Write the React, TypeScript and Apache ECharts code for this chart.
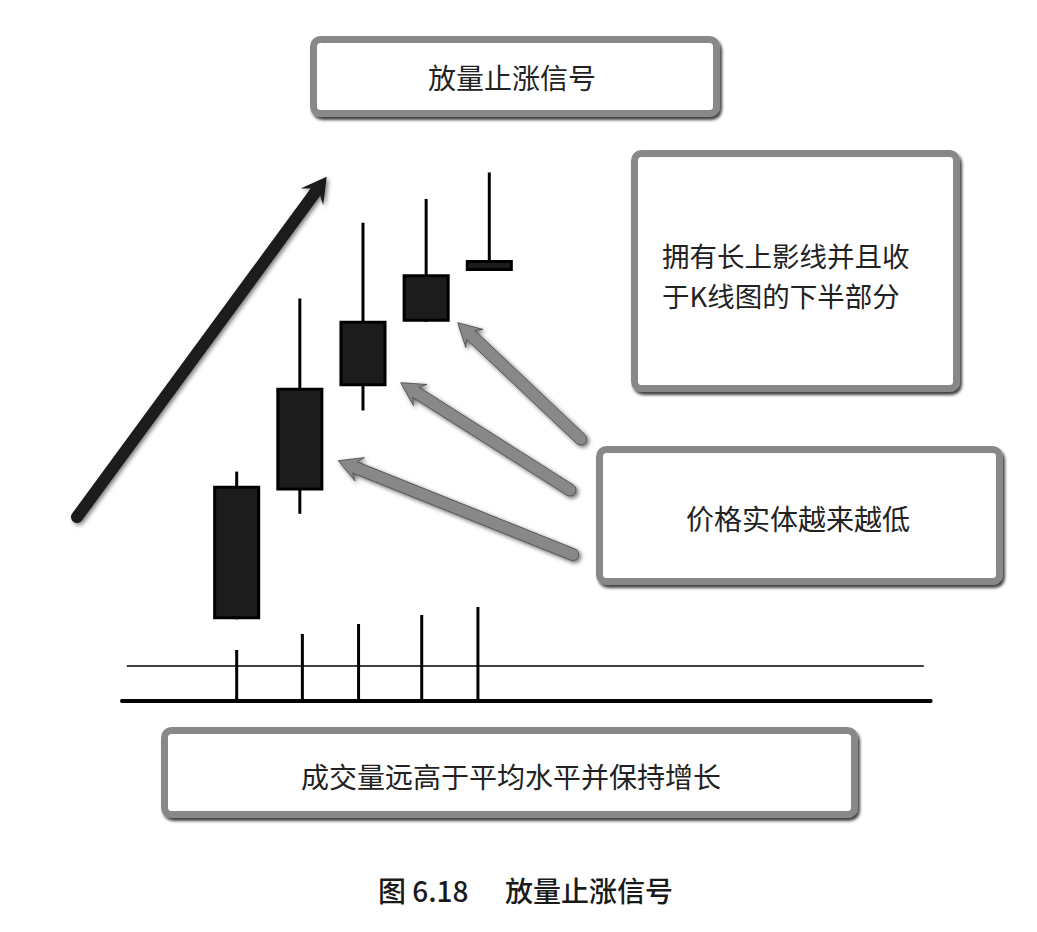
import React, { useEffect, useRef } from 'react';
import * as echarts from 'echarts';

// ---- data ----
const candleX = [0, 1, 2, 3, 4];
const openP = [15.1, 38.9, 58.2, 70.1, 79.5];
const closeP = [39.8, 57.9, 70.3, 78.9, 81.5];
const lowP = [15.1, 34.6, 53.7, 70.1, 79.5];
const highP = [42.4, 74.4, 88.4, 92.8, 97.7];

const volX = [0, 1.04, 1.93, 2.93, 3.82];
const volume = [51, 67, 77, 86, 94];
const avgVolume = 35;
const avgLineRange = [-1.74, 10.88];

const titleText = '放量止涨信号';
const noteUpperLines = ['拥有长上影线并且收', '于K线图的下半部分'];
const noteBody = '价格实体越来越低';
const noteVolume = '成交量远高于平均水平并保持增长';
const captionNo = '图 6.18';
const captionTitle = '放量止涨信号';

const FONT = "'Noto Sans CJK SC', 'Noto Sans', sans-serif";

function arrowPoints(
  tail: number[],
  tip: number[],
  shaftHalf: number,
  headLen: number,
  headHalf: number,
  notch: number
) {
  const dx = tip[0] - tail[0];
  const dy = tip[1] - tail[1];
  const L = Math.hypot(dx, dy);
  const ux = dx / L;
  const uy = dy / L;
  const nx = -uy;
  const ny = ux;
  const P = (along: number, perp: number) => [
    tail[0] + ux * along + nx * perp,
    tail[1] + uy * along + ny * perp,
  ];
  const pts: number[][] = [];
  for (let k = 0; k <= 14; k++) {
    const a = Math.PI / 2 + (Math.PI * k) / 14;
    pts.push(P(Math.cos(a) * shaftHalf, Math.sin(a) * shaftHalf));
  }
  pts.push(P(L - headLen + notch, -shaftHalf));
  pts.push(P(L - headLen, -headHalf));
  pts.push(P(L, 0));
  pts.push(P(L - headLen, headHalf));
  pts.push(P(L - headLen + notch, shaftHalf));
  return pts;
}

function box(x: number, y: number, w: number, h: number) {
  const bw = 7;
  return {
    type: 'rect',
    z: 5,
    shape: { x: x + bw / 2, y: y + bw / 2, width: w - bw, height: h - bw, r: 7 },
    style: {
      fill: '#ffffff',
      stroke: '#888888',
      lineWidth: bw,
      shadowColor: 'rgba(0,0,0,0.75)',
      shadowBlur: 3,
      shadowOffsetX: 2,
      shadowOffsetY: 3,
    },
  };
}

function text(
  x: number,
  y: number,
  t: string,
  size: number,
  align: string,
  weight: any = 'normal',
  color: string = '#222222'
) {
  return {
    type: 'text',
    z: 6,
    x,
    y,
    style: {
      text: t,
      fill: color,
      fontSize: size,
      fontFamily: FONT,
      fontWeight: weight,
      align,
      verticalAlign: 'middle',
      textAlign: align,
      textVerticalAlign: 'middle',
    },
  };
}

const grayArrowStyle = {
  fill: '#888888',
  stroke: '#444444',
  lineWidth: 0.8,
  shadowColor: 'rgba(0,0,0,0.6)',
  shadowBlur: 4,
  shadowOffsetX: 2,
  shadowOffsetY: 2,
};

export default function App() {
  const ref = useRef<HTMLDivElement>(null);

  useEffect(() => {
    if (!ref.current) return;
    const chart = echarts.init(ref.current, null, { renderer: 'svg' });

    const candleData = candleX.map((x, i) => [x, openP[i], closeP[i], lowP[i], highP[i]]);
    const volData = volX.map((x, i) => [x, volume[i]]);

    const xCommon = {
      type: 'value',
      min: -1.816,
      max: 10.988,
      axisLabel: { show: false },
      axisTick: { show: false },
      splitLine: { show: false },
    };

    const option: any = {
      animation: false,
      backgroundColor: '#ffffff',
      grid: [
        { left: 122, right: 106.4, top: 160, bottom: 231 },
        { left: 122, right: 106.4, top: 601, bottom: 231 },
      ],
      xAxis: [
        { ...xCommon, gridIndex: 0, axisLine: { show: false } },
        {
          ...xCommon,
          gridIndex: 1,
          position: 'bottom',
          axisLine: { show: true, onZero: false, lineStyle: { color: '#000', width: 4 } },
        },
      ],
      yAxis: [
        { type: 'value', gridIndex: 0, min: 0, max: 100, show: false, splitLine: { show: false } },
        { type: 'value', gridIndex: 1, min: 0, max: 100, show: false, splitLine: { show: false } },
      ],
      series: [
        {
          type: 'custom',
          name: 'K线',
          xAxisIndex: 0,
          yAxisIndex: 0,
          encode: { x: 0, y: [1, 2, 3, 4] },
          data: candleData,
          renderItem: (params: any, api: any) => {
            const x = api.value(0);
            const o = api.value(1);
            const c = api.value(2);
            const l = api.value(3);
            const h = api.value(4);
            const pTop = api.coord([x, Math.max(o, c)]);
            const pBot = api.coord([x, Math.min(o, c)]);
            const pH = api.coord([x, h]);
            const pL = api.coord([x, l]);
            const outerW = api.size([0.745, 0])[0];
            const bw = 3;
            return {
              type: 'group',
              children: [
                {
                  type: 'line',
                  shape: { x1: pH[0], y1: pH[1], x2: pL[0], y2: pL[1] },
                  style: { stroke: '#000', lineWidth: 3 },
                },
                {
                  type: 'rect',
                  shape: {
                    x: pTop[0] - outerW / 2 + bw / 2,
                    y: pTop[1] + bw / 2,
                    width: outerW - bw,
                    height: Math.max(pBot[1] - pTop[1] - bw, 1),
                  },
                  style: { fill: '#1c1c1c', stroke: '#000', lineWidth: bw },
                },
              ],
            };
          },
        },
        {
          type: 'bar',
          name: '成交量',
          xAxisIndex: 1,
          yAxisIndex: 1,
          barWidth: 3,
          itemStyle: { color: '#000' },
          data: volData,
          markLine: {
            silent: true,
            symbol: ['none', 'none'],
            label: { show: false },
            lineStyle: { color: '#000', width: 1.6, type: 'solid' },
            data: [
              [
                { coord: [avgLineRange[0], avgVolume] },
                { coord: [avgLineRange[1], avgVolume] },
              ],
            ],
          },
        },
      ],
      graphic: [
        // big black trend arrow
        {
          type: 'polygon',
          z: 4,
          shape: { points: arrowPoints([77, 517], [326.7, 176.7], 6, 25, 14, 6) },
          style: {
            fill: '#1a1a1a',
            shadowColor: 'rgba(0,0,0,0.5)',
            shadowBlur: 4,
            shadowOffsetX: 2,
            shadowOffsetY: 2,
          },
        },
        // gray arrows
        {
          type: 'polygon',
          z: 4,
          shape: { points: arrowPoints([580.7, 439], [457.7, 322.7], 6, 23, 12.5, 5) },
          style: grayArrowStyle,
        },
        {
          type: 'polygon',
          z: 4,
          shape: { points: arrowPoints([570, 490], [400.7, 382.7], 6, 23, 12.5, 5) },
          style: grayArrowStyle,
        },
        {
          type: 'polygon',
          z: 4,
          shape: { points: arrowPoints([572.7, 554.5], [338.3, 460.7], 6, 23, 12.5, 5) },
          style: grayArrowStyle,
        },
        // boxes
        box(310, 36, 410, 81),
        text(512, 77, titleText, 28, 'center'),
        box(631, 150, 329, 242),
        text(662, 255, noteUpperLines[0], 27.5, 'left'),
        text(662, 295, noteUpperLines[1], 27.5, 'left'),
        box(596, 446, 407, 139),
        text(798, 518, noteBody, 28, 'center'),
        box(161, 727, 697, 91),
        text(511, 776, noteVolume, 28, 'center'),
        // caption
        text(378, 890, captionNo, 28, 'left', 500, '#1a1a1a'),
        text(505, 890, captionTitle, 28, 'left', 500, '#1a1a1a'),
      ],
    };

    chart.setOption(option);
    return () => {
      chart.dispose();
    };
  }, []);

  return (
    <div
      ref={ref}
      style={{ position: 'absolute', left: 0, top: 0, width: 1037, height: 932, background: '#fff' }}
    />
  );
}
